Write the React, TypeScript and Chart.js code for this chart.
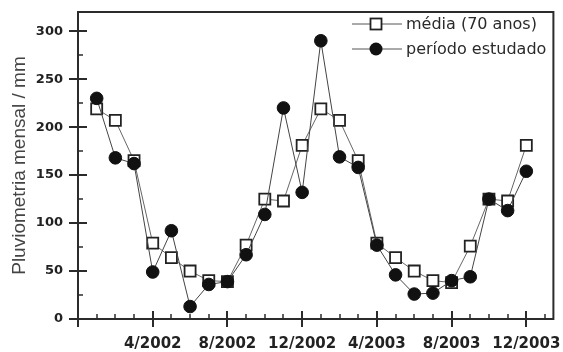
import React, { useEffect, useRef } from 'react';
import { Chart, registerables } from 'chart.js';

Chart.register(...registerables);

// Month index: 1 = 1/2002 ... 24 = 12/2003 (0 = 12/2001)
const monthIndex = [1, 2, 3, 4, 5, 6, 7, 8, 9, 10, 11, 12, 13, 14, 15, 16, 17, 18, 19, 20, 21, 22, 23, 24];
const xTickValues = [4, 8, 12, 16, 20, 24];
const xTickLabels = ['4/2002', '8/2002', '12/2002', '4/2003', '8/2003', '12/2003'];
const yTickValues = [0, 50, 100, 150, 200, 250, 300];

const mediaLabel = 'média (70 anos)';
const periodoLabel = 'período estudado';
const mediaValues = [219, 207, 165, 79, 64, 50, 40, 39, 77, 125, 123, 181, 219, 207, 165, 79, 64, 50, 40, 38, 76, 125, 123, 181];
const periodoValues = [230, 168, 162, 49, 92, 13, 36, 39, 67, 109, 220, 132, 290, 169, 158, 77, 46, 26, 27, 40, 44, 125, 113, 154];

const axisColor = '#2b2b2b';

const noPad = (s: any) => {
  s.paddingTop = 0;
  s.paddingBottom = 0;
  s.paddingLeft = 0;
  s.paddingRight = 0;
};

const decorPlugin = {
  id: 'decor',
  beforeDatasetsDraw(chart: any) {
    const { ctx, chartArea, scales } = chart;
    const { left, right, top, bottom } = chartArea;
    const x = scales.x;
    const y = scales.y;
    ctx.save();
    ctx.strokeStyle = axisColor;
    ctx.lineWidth = 2;
    ctx.strokeRect(left, top, right - left, bottom - top);
    // x ticks (monthly minor, 4-monthly major)
    for (let m = 0; m <= 25; m++) {
      const px = Math.round(x.getPixelForValue(m));
      const major = m % 4 === 0;
      ctx.lineWidth = major ? 2 : 1.5;
      ctx.beginPath();
      ctx.moveTo(px, major ? bottom - 8 : bottom - 5);
      ctx.lineTo(px, major ? bottom + 8 : bottom);
      ctx.stroke();
    }
    // y ticks
    for (let v = 0; v <= 300; v += 25) {
      const py = Math.round(y.getPixelForValue(v));
      const major = v % 50 === 0;
      ctx.lineWidth = major ? 2 : 1.5;
      ctx.beginPath();
      ctx.moveTo(major ? left - 9 : left, py);
      ctx.lineTo(major ? left + 9 : left + 5, py);
      ctx.stroke();
    }
    ctx.restore();
  },
  afterDatasetsDraw(chart: any) {
    const { ctx } = chart;
    ctx.save();
    const rows = [
      { label: mediaLabel, y: 24, type: 'rect' },
      { label: periodoLabel, y: 49, type: 'circle' },
    ];
    const mx = 376;
    for (const r of rows) {
      ctx.strokeStyle = '#555';
      ctx.lineWidth = 1;
      ctx.beginPath();
      ctx.moveTo(352, r.y);
      ctx.lineTo(402, r.y);
      ctx.stroke();
      if (r.type === 'rect') {
        ctx.fillStyle = '#fff';
        ctx.fillRect(mx - 5.5, r.y - 5.5, 11, 11);
        ctx.strokeStyle = '#222';
        ctx.lineWidth = 1.8;
        ctx.strokeRect(mx - 5.5, r.y - 5.5, 11, 11);
      } else {
        ctx.fillStyle = '#111';
        ctx.beginPath();
        ctx.arc(mx, r.y, 6.5, 0, Math.PI * 2);
        ctx.fill();
      }
      ctx.fillStyle = '#2a2a2a';
      ctx.font = '16px "DejaVu Sans"';
      ctx.textAlign = 'left';
      ctx.textBaseline = 'middle';
      ctx.fillText(r.label, 406, r.y + 1);
    }
    ctx.restore();
  },
};

export default function App() {
  const ref = useRef<HTMLCanvasElement | null>(null);
  useEffect(() => {
    if (!ref.current) return;
    const chart = new Chart(ref.current, {
      type: 'line',
      data: {
        datasets: [
          {
            label: periodoLabel,
            data: monthIndex.map((m, i) => ({ x: m, y: periodoValues[i] })),
            borderColor: '#444',
            borderWidth: 1,
            pointStyle: 'circle',
            pointRadius: 6.3,
            pointBackgroundColor: '#111',
            pointBorderColor: '#111',
            pointBorderWidth: 1,
            order: 0,
          },
          {
            label: mediaLabel,
            data: monthIndex.map((m, i) => ({ x: m, y: mediaValues[i] })),
            borderColor: '#666',
            borderWidth: 1,
            pointStyle: 'rect',
            pointRadius: 7.8,
            pointBackgroundColor: '#fff',
            pointBorderColor: '#222',
            pointBorderWidth: 1.8,
            order: 1,
          },
        ],
      },
      options: {
        responsive: false,
        animation: false,
        devicePixelRatio: 1,
        layout: { padding: { top: 12, right: 6.5, left: 0, bottom: 0 } },
        plugins: { legend: { display: false }, tooltip: { enabled: false } },
        scales: {
          x: {
            type: 'linear',
            min: 0,
            max: 25.45,
            grid: { display: false, drawTicks: false },
            border: { display: false },
            afterFit: (s: any) => { s.height = 33; noPad(s); },
            afterBuildTicks: (s: any) => { s.ticks = xTickValues.map((v) => ({ value: v })); },
            ticks: {
              stepSize: 4,
              includeBounds: false,
              autoSkip: false,
              maxRotation: 0,
              padding: 16,
              color: '#222',
              font: { family: '"DejaVu Sans"', size: 15, weight: 'bold' },
              callback: (v: any) => {
                const i = xTickValues.indexOf(Number(v));
                return i >= 0 ? xTickLabels[i] : '';
              },
            },
          },
          y: {
            type: 'linear',
            min: 0,
            max: 320,
            grid: { display: false, drawTicks: false },
            border: { display: false },
            afterFit: (s: any) => { s.width = 78; noPad(s); },
            afterBuildTicks: (s: any) => { s.ticks = yTickValues.map((v) => ({ value: v })); },
            title: {
              display: true,
              text: 'Pluviometria mensal / mm',
              color: '#444',
              font: { family: '"Liberation Sans", Arial', size: 19, weight: 'normal' },
              padding: { top: 8, bottom: 0 },
            },
            ticks: {
              stepSize: 50,
              includeBounds: false,
              padding: 15,
              color: '#222',
              font: { family: '"DejaVu Sans"', size: 13, weight: 'bold' },
              callback: (v: any) => (yTickValues.includes(Number(v)) ? String(v) : ''),
            },
          },
        },
      },
      plugins: [decorPlugin],
    });
    return () => chart.destroy();
  }, []);
  return (
    <div style={{ position: 'absolute', left: 0, top: 0, width: 563, height: 352, background: '#fff' }}>
      <canvas ref={ref} width={563} height={352} />
    </div>
  );
}
